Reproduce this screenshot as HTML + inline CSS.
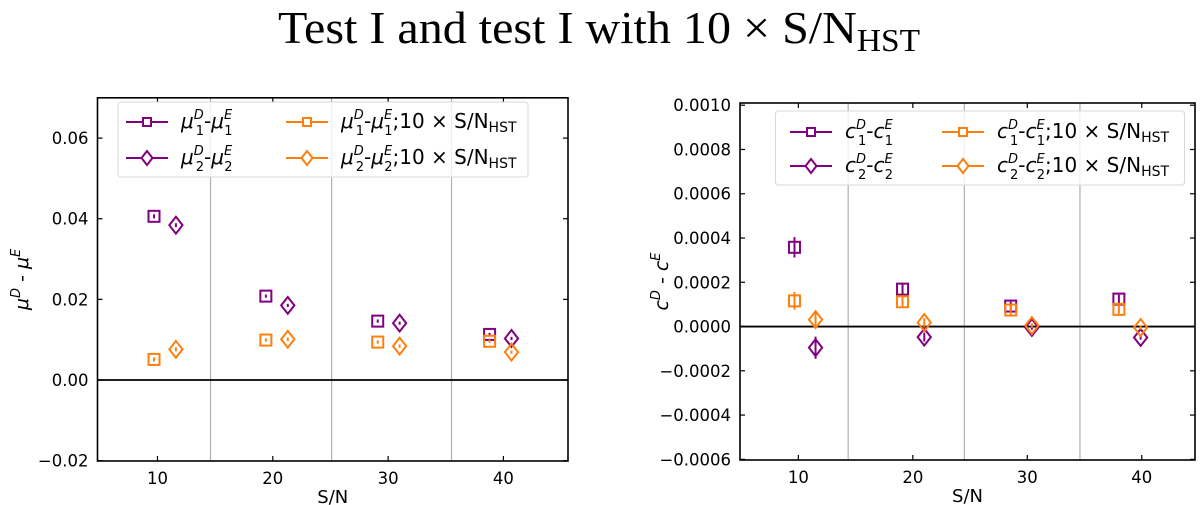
<!DOCTYPE html>
<html><head><meta charset="utf-8"><style>
html,body{margin:0;padding:0;background:#fff;}
svg{display:block;font-family:"DejaVu Sans","Liberation Sans",sans-serif;}
</style></head><body>
<svg id="fig" width="1200" height="505" viewBox="0 0 1200 505" xmlns="http://www.w3.org/2000/svg">
<text x="278" y="43" font-family="Liberation Serif, serif" font-size="46" textLength="642" lengthAdjust="spacingAndGlyphs">Test I and test I with 10 × S/N<tspan font-size="32" dy="8">HST</tspan></text>
</svg>
<script>
// ---- data ----
const snCategories = [10, 20, 30, 40];
const leftSquareX = [9.7, 19.4, 29.1, 38.8];
const leftDiamondX = [11.6, 21.3, 31.0, 40.7];
const muPurple1 = [0.0406, 0.0208, 0.0146, 0.0113];
const muPurple2 = [0.0384, 0.0185, 0.0141, 0.0103];
const muOrange1 = [0.0051, 0.0099, 0.0094, 0.0096];
const muOrange2 = [0.0076, 0.0101, 0.0084, 0.0069];
const muErr = [0.0005, 0.0004, 0.0004, 0.0004];
const rightSquareX = [9.66, 19.1, 28.55, 38.0];
const rightDiamondX = [11.5, 21.0, 30.4, 39.9];
const cPurple1 = [0.000358, 0.000169, 0.0000925, 0.000124];
const cPurple2 = [-0.0000955, -0.0000478, -0.0000045, -0.0000493];
const cOrange1 = [0.000116, 0.000112, 0.0000746, 0.0000776];
const cOrange2 = [0.0000313, 0.0000179, 0.0000045, -0.0000045];
const cErrP1 = [0.000046, 0.00003, 0.00002, 0.00002];
const cErrP2 = [0.00005, 0.00002, 0.00001, 0.00001];
const cErrO1 = [0.00004, 0.00002, 0.00002, 0.00002];
const cErrO2 = [0.00004, 0.00002, 0.00001, 0.00001];
const leftYTicks = [-0.02, 0, 0.02, 0.04, 0.06];
const leftYTickLabels = ["\u22120.02", "0.00", "0.02", "0.04", "0.06"];
const rightYTicks = [-0.0006, -0.0004, -0.0002, 0, 0.0002, 0.0004, 0.0006, 0.0008, 0.0010];
const rightYTickLabels = ["\u22120.0006", "\u22120.0004", "\u22120.0002", "0.0000", "0.0002", "0.0004", "0.0006", "0.0008", "0.0010"];
const gridX = [14.6, 25.1, 35.5];
const gridXRight = [14.35, 24.5, 34.6];

const NS = "http://www.w3.org/2000/svg";
const svg = document.getElementById('fig');
const PURPLE = "#800080", ORANGE = "#ff7f0e";
function mk(tag, attrs, parent) {
  const e = document.createElementNS(NS, tag);
  for (const k in attrs) e.setAttribute(k, attrs[k]);
  (parent || svg).appendChild(e);
  return e;
}
function marker(g, kind, cx, cy, color, s) {
  let e;
  if (kind === 'sq') e = mk('rect', {x: cx - s/2, y: cy - s/2, width: s, height: s, fill: 'none', stroke: color, 'stroke-width': 2}, g);
  else e = mk('polygon', {points: `${cx},${cy - s*0.7} ${cx + s*0.55},${cy} ${cx},${cy + s*0.7} ${cx - s*0.55},${cy}`, fill: 'none', stroke: color, 'stroke-width': 2}, g);
  return e;
}
function panel(cfg) {
  const g = mk('g', {});
  
  
  const X = v => cfg.x0 + (v - cfg.xmin) / (cfg.xmax - cfg.xmin) * (cfg.x1 - cfg.x0);
  const Y = v => cfg.y1 - (v - cfg.ymin) / (cfg.ymax - cfg.ymin) * (cfg.y1 - cfg.y0);
  cfg.grid.forEach(v => {
    const l = mk('line', {x1: X(v), x2: X(v), y1: cfg.y0, y2: cfg.y1, stroke: '#b0b0b0', 'stroke-width': 1.2}, g);
    
    
  });
  const z = mk('line', {x1: cfg.x0, x2: cfg.x1, y1: Y(0), y2: Y(0), stroke: '#000', 'stroke-width': 1.8}, g);
  
  
  cfg.series.forEach(s => {
    const sg = mk('g', {}, g);
    
    
    s.y.forEach((v, i) => {
      const cx = X(s.x[i]), cy = Y(v), e = s.err[i];
      mk('line', {x1: cx, x2: cx, y1: Y(v + e), y2: Y(v - e), stroke: s.color, 'stroke-width': 2}, sg);
      const m = marker(sg, s.kind, cx, cy, s.color, s.kind === 'sq' ? 11 : 12);
      
      
    });
  });
  const fr = mk('rect', {x: cfg.x0, y: cfg.y0, width: cfg.x1 - cfg.x0, height: cfg.y1 - cfg.y0, fill: 'none', stroke: '#000', 'stroke-width': 1.6}, g);
  
  
  snCategories.forEach(v => {
    mk('line', {x1: X(v), x2: X(v), y1: cfg.y1, y2: cfg.y1 - 5, stroke: '#000', 'stroke-width': 1.2}, g);
    mk('line', {x1: X(v), x2: X(v), y1: cfg.y0, y2: cfg.y0 + 5, stroke: '#000', 'stroke-width': 1.2}, g);
    const t = mk('text', {x: X(v), y: cfg.y1 + 23, 'font-size': 16.5, 'text-anchor': 'middle'}, g);
    t.textContent = v;
    
    
  });
  cfg.yticks.forEach((v, i) => {
    mk('line', {x1: cfg.x0, x2: cfg.x0 + 5, y1: Y(v), y2: Y(v), stroke: '#000', 'stroke-width': 1.2}, g);
    mk('line', {x1: cfg.x1, x2: cfg.x1 - 5, y1: Y(v), y2: Y(v), stroke: '#000', 'stroke-width': 1.2}, g);
    const t = mk('text', {x: cfg.x0 - 9, y: Y(v) + 6, 'font-size': 16.5, 'text-anchor': 'end'}, g);
    t.textContent = cfg.ylabels[i];
    
    
  });
  const xl = mk('text', {x: (cfg.x0 + cfg.x1) / 2, y: cfg.y1 + 42, 'font-size': 18, 'text-anchor': 'middle'}, g);
  xl.textContent = 'S/N';
  
  
  const yl = mk('text', {x: 0, y: 0, 'font-size': 19, 'text-anchor': 'middle', transform: `translate(${cfg.ylx},${(cfg.y0 + cfg.y1) / 2}) rotate(-90)`}, g);
  yl.innerHTML = cfg.ytitle;
  
  
  const L = cfg.legend;
  const lg = mk('g', {}, g);
  
  
  mk('rect', {x: L.x, y: L.y, width: L.w, height: L.h, rx: 3, fill: 'rgba(255,255,255,0.8)', stroke: '#d8d8d8', 'stroke-width': 1}, lg);
  L.entries.forEach(en => {
    const eg = mk('g', {}, lg);
    
    
    mk('line', {x1: en.hx, x2: en.hx + 42, y1: en.y, y2: en.y, stroke: en.color, 'stroke-width': 2}, eg);
    const m = marker(eg, en.kind, en.hx + 21, en.y, en.color, en.kind === 'sq' ? 8 : 10);
    m.setAttribute('fill', '#fff');
    const t = mk('text', {x: en.hx + 55, y: en.y + 6, 'font-size': 20}, eg);
    t.innerHTML = en.label;
  });
}
const sym = (s) => `<tspan font-style="italic">${s}</tspan>`;
function lbl(s, i, hst) {
  let r = `${sym(s)}<tspan font-size="13" dy="-9" font-style="italic">D</tspan><tspan font-size="13" dx="-8" dy="16">${i}</tspan><tspan dy="-7">-</tspan>${sym(s)}<tspan font-size="13" dy="-9" font-style="italic">E</tspan><tspan font-size="13" dx="-8" dy="16">${i}</tspan><tspan dy="-7">${hst ? ';10 × S/N' : ''}</tspan>`;
  if (hst) r += `<tspan font-size="14" dy="4">HST</tspan>`;
  return r;
}
panel({
  name: 'left-panel-mu', x0: 97.5, x1: 568, y0: 97.8, y1: 461, xmin: 4.8, xmax: 45.6, ymin: -0.0201, ymax: 0.07,
  grid: gridX, yticks: leftYTicks, ylabels: leftYTickLabels, ylx: 28,
  ytitle: '<tspan font-style="italic">μ</tspan><tspan font-size="13" dy="-8" font-style="italic">D</tspan><tspan dy="8"> - </tspan><tspan font-style="italic">μ</tspan><tspan font-size="13" dy="-8" font-style="italic">E</tspan>',
  series: [
    {name: 'mu1-series', kind: 'sq', color: PURPLE, x: leftSquareX, y: muPurple1, err: muErr},
    {name: 'mu2-series', kind: 'di', color: PURPLE, x: leftDiamondX, y: muPurple2, err: muErr},
    {name: 'mu1-hst-series', kind: 'sq', color: ORANGE, x: leftSquareX, y: muOrange1, err: muErr},
    {name: 'mu2-hst-series', kind: 'di', color: ORANGE, x: leftDiamondX, y: muOrange2, err: muErr}
  ],
  legend: {x: 118, y: 102, w: 410, h: 75, entries: [
    {hx: 126, y: 122, kind: 'sq', color: PURPLE, label: lbl('μ', 1, false)},
    {hx: 126, y: 158, kind: 'di', color: PURPLE, label: lbl('μ', 2, false)},
    {hx: 286, y: 122, kind: 'sq', color: ORANGE, label: lbl('μ', 1, true)},
    {hx: 286, y: 158, kind: 'di', color: ORANGE, label: lbl('μ', 2, true)}
  ]}
});
panel({
  name: 'right-panel-c', x0: 740, x1: 1195, y0: 103, y1: 460, xmin: 4.9, xmax: 44.65, ymin: -0.000603, ymax: 0.00101,
  grid: gridXRight, yticks: rightYTicks, ylabels: rightYTickLabels, ylx: 668,
  ytitle: '<tspan font-style="italic">c</tspan><tspan font-size="13" dy="-8" font-style="italic">D</tspan><tspan dy="8"> - </tspan><tspan font-style="italic">c</tspan><tspan font-size="13" dy="-8" font-style="italic">E</tspan>',
  series: [
    {name: 'c1-series', kind: 'sq', color: PURPLE, x: rightSquareX, y: cPurple1, err: cErrP1},
    {name: 'c2-series', kind: 'di', color: PURPLE, x: rightDiamondX, y: cPurple2, err: cErrP2},
    {name: 'c1-hst-series', kind: 'sq', color: ORANGE, x: rightSquareX, y: cOrange1, err: cErrO1},
    {name: 'c2-hst-series', kind: 'di', color: ORANGE, x: rightDiamondX, y: cOrange2, err: cErrO2}
  ],
  legend: {x: 775.5, y: 111, w: 409, h: 74, entries: [
    {hx: 790, y: 132, kind: 'sq', color: PURPLE, label: lbl('c', 1, false)},
    {hx: 790, y: 166, kind: 'di', color: PURPLE, label: lbl('c', 2, false)},
    {hx: 942, y: 132, kind: 'sq', color: ORANGE, label: lbl('c', 1, true)},
    {hx: 942, y: 166, kind: 'di', color: ORANGE, label: lbl('c', 2, true)}
  ]}
});
</script>
</body></html>
